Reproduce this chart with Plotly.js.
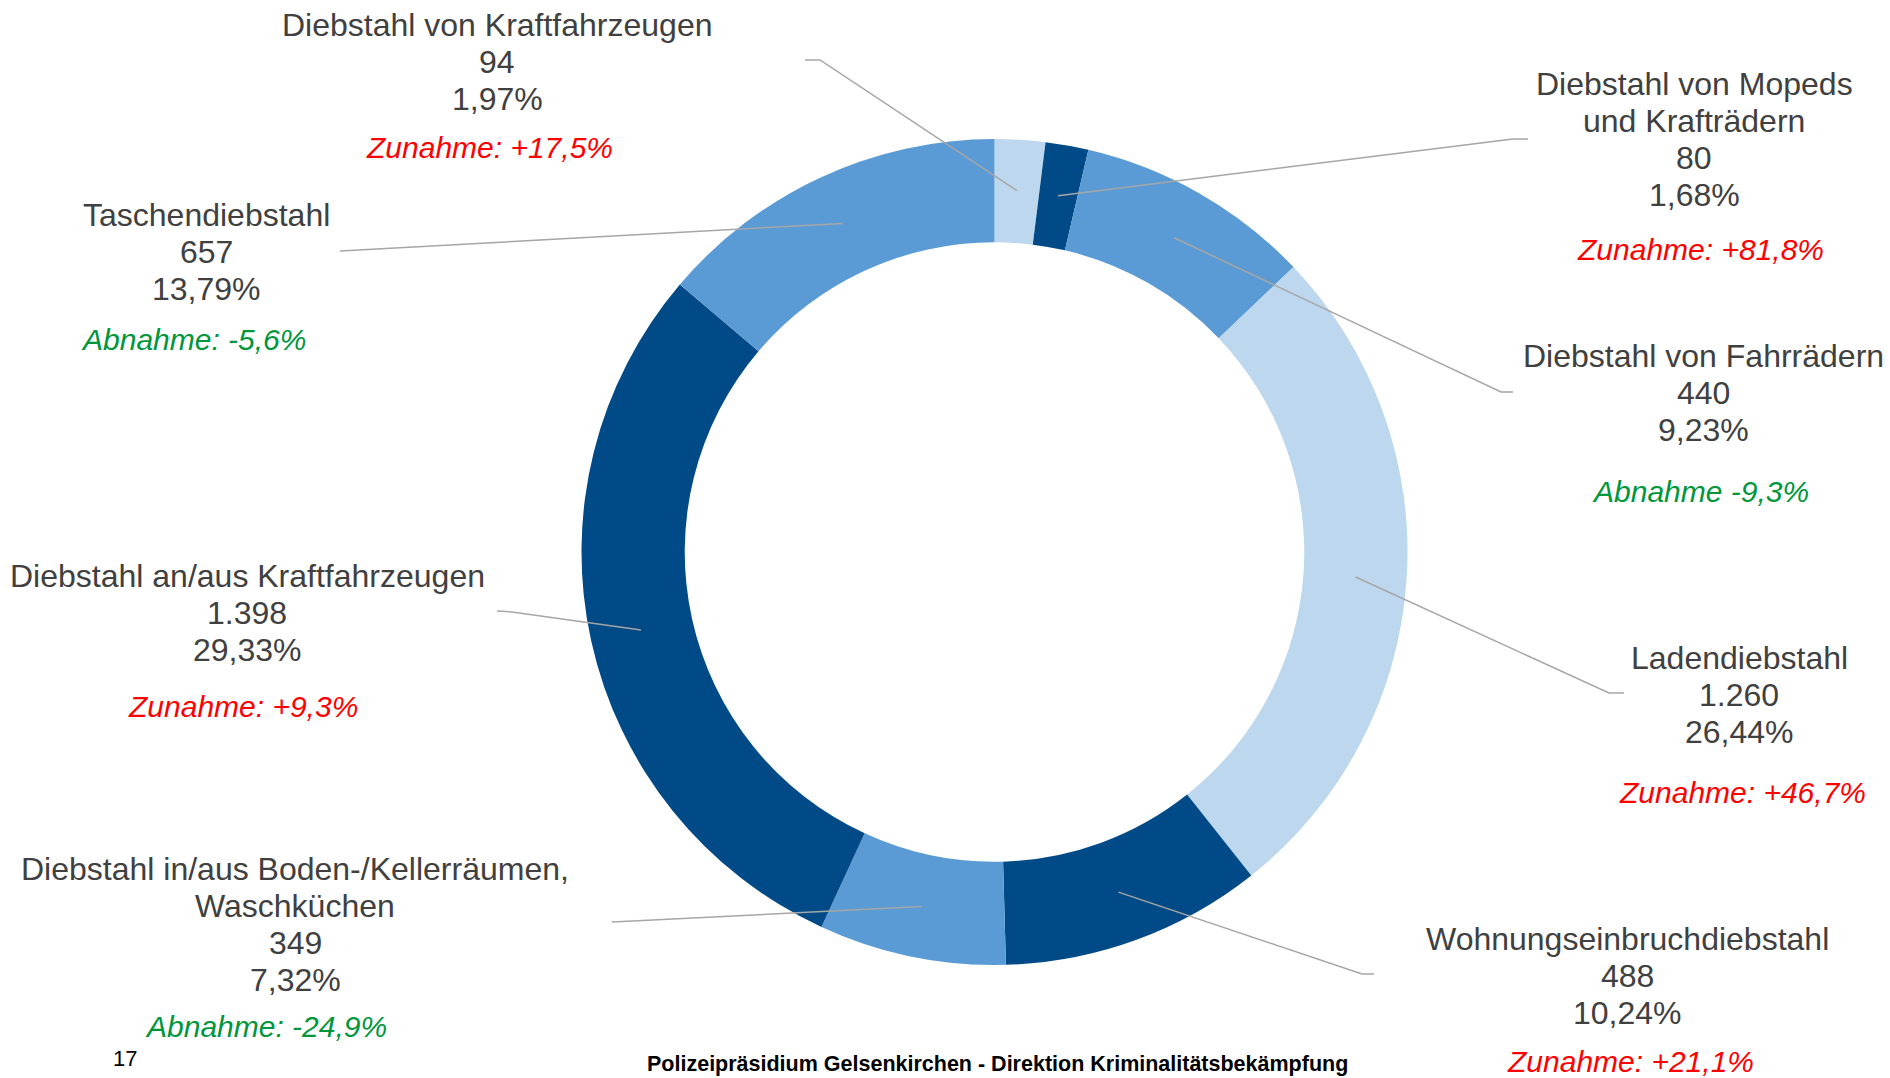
<!DOCTYPE html>
<html>
<head>
<meta charset="utf-8">
<script src="https://cdn.plot.ly/plotly-3.0.1.min.js"></script>
<style>html,body{margin:0;padding:0;background:#fff;}#chart{width:1890px;height:1078px;}</style>
</head>
<body>
<div id="chart"></div>
<script>
// ---- data ----
const categories = [
  "Diebstahl von Kraftfahrzeugen",
  "Diebstahl von Mopeds und Krafträdern",
  "Diebstahl von Fahrrädern",
  "Ladendiebstahl",
  "Wohnungseinbruchdiebstahl",
  "Diebstahl in/aus Boden-/Kellerräumen, Waschküchen",
  "Diebstahl an/aus Kraftfahrzeugen",
  "Taschendiebstahl"
];
const nameLines = [
  ["Diebstahl von Kraftfahrzeugen"],
  ["Diebstahl von Mopeds", "und Krafträdern"],
  ["Diebstahl von Fahrrädern"],
  ["Ladendiebstahl"],
  ["Wohnungseinbruchdiebstahl"],
  ["Diebstahl in/aus Boden-/Kellerräumen,", "Waschküchen"],
  ["Diebstahl an/aus Kraftfahrzeugen"],
  ["Taschendiebstahl"]
];
const values = [94, 80, 440, 1260, 488, 349, 1398, 657];
const valueLabels = ["94", "80", "440", "1.260", "488", "349", "1.398", "657"];
const percentLabels = ["1,97%", "1,68%", "9,23%", "26,44%", "10,24%", "7,32%", "29,33%", "13,79%"];
const changeLabels = ["Zunahme: +17,5%", "Zunahme: +81,8%", "Abnahme -9,3%", "Zunahme: +46,7%",
                      "Zunahme: +21,1%", "Abnahme: -24,9%", "Zunahme: +9,3%", "Abnahme: -5,6%"];
const changeUp = [true, true, false, true, true, false, true, false];

// ---- layout helpers (pixel positions on the 1890x1078 page) ----
const W = 1890, H = 1078;
const cx = 994.5, cy = 552, R = 413;
const px = x => x / W;
const py = y => 1 - y / H;

const colors = ["#BDD7EE", "#004B87", "#5B9BD5", "#BDD7EE", "#004B87", "#5B9BD5", "#004B87", "#5B9BD5"];

// label block positions: [centerX, firstLineY, changeCenterX, changeY]
const labelPos = [
  [497, 25, 489, 148],
  [1694, 84, 1700, 250],
  [1703, 356, 1700, 492],
  [1739, 658, 1742, 792],
  [1627, 939, 1630, 1061],
  [295, 869, 266, 1026],
  [247, 576, 243, 706],
  [206, 215, 193, 340]
];
const lineStep = 37;
// leader line outer points (elbow, end)
const leaderOuter = [
  [[820, 60], [805, 60]],
  [[1513, 139], [1528, 139]],
  [[1501, 392], [1513, 392]],
  [[1609, 693], [1624, 693]],
  [[1362, 974], [1374, 974]],
  [[612, 922]],
  [[512, 612], [497, 611]],
  [[340, 251]]
];

const textFont = {family: "Liberation Sans, Arial, sans-serif", size: 32, color: "#404040"};
const changeFont = {family: "Liberation Sans, Arial, sans-serif", size: 30};

const annotations = [];
const shapes = [];
const total = values.reduce((a, b) => a + b, 0);
let cum = 0;
values.forEach((v, i) => {
  const lines = nameLines[i].concat([valueLabels[i], percentLabels[i]]);
  const p = labelPos[i];
  lines.forEach((t, k) => {
    annotations.push({
      xref: "paper", yref: "paper", x: px(p[0]), y: py(p[1] + k * lineStep),
      xanchor: "center", yanchor: "middle", showarrow: false, text: t, font: textFont
    });
  });
  annotations.push({
    xref: "paper", yref: "paper", x: px(p[2]), y: py(p[3]),
    xanchor: "center", yanchor: "middle", showarrow: false,
    text: "<i>" + changeLabels[i] + "</i>",
    font: Object.assign({}, changeFont, {color: changeUp[i] ? "#FF0000" : "#00963C"})
  });
  // leader line anchor on the ring at mid angle of the slice
  const theta = 2 * Math.PI * (cum + v / 2) / total;
  cum += v;
  const rMid = 362;
  const ax = cx + rMid * Math.sin(theta), ay = cy - rMid * Math.cos(theta);
  let path = "M" + px(ax) + "," + py(ay);
  leaderOuter[i].forEach(pt => { path += " L" + px(pt[0]) + "," + py(pt[1]); });
  shapes.push({type: "path", xref: "paper", yref: "paper", path: path,
               line: {color: "#A6A6A6", width: 1.5}});
});

annotations.push({xref: "paper", yref: "paper", x: px(125), y: py(1058), xanchor: "center", yanchor: "middle",
  showarrow: false, text: "17", font: {family: "Liberation Sans, Arial, sans-serif", size: 22, color: "#000"}});
annotations.push({xref: "paper", yref: "paper", x: px(997), y: py(1064), xanchor: "center", yanchor: "middle",
  showarrow: false, text: "<b>Polizeipräsidium Gelsenkirchen - Direktion Kriminalitätsbekämpfung</b>",
  font: {family: "Liberation Sans, Arial, sans-serif", size: 21.5, color: "#000"}});

const trace = {
  type: "pie",
  labels: categories,
  values: values,
  sort: false,
  direction: "clockwise",
  rotation: 0,
  hole: 0.75,
  textinfo: "none",
  hoverinfo: "label+value+percent",
  marker: {colors: colors, line: {width: 0}},
  domain: {x: [px(cx - R), px(cx + R)], y: [py(cy + R), py(cy - R)]},
  showlegend: false
};

Plotly.newPlot("chart", [trace], {
  width: W, height: H,
  margin: {l: 0, r: 0, t: 0, b: 0},
  paper_bgcolor: "#fff", plot_bgcolor: "#fff",
  showlegend: false,
  annotations: annotations,
  shapes: shapes
}, {displayModeBar: false, staticPlot: true});
</script>
</body>
</html>
